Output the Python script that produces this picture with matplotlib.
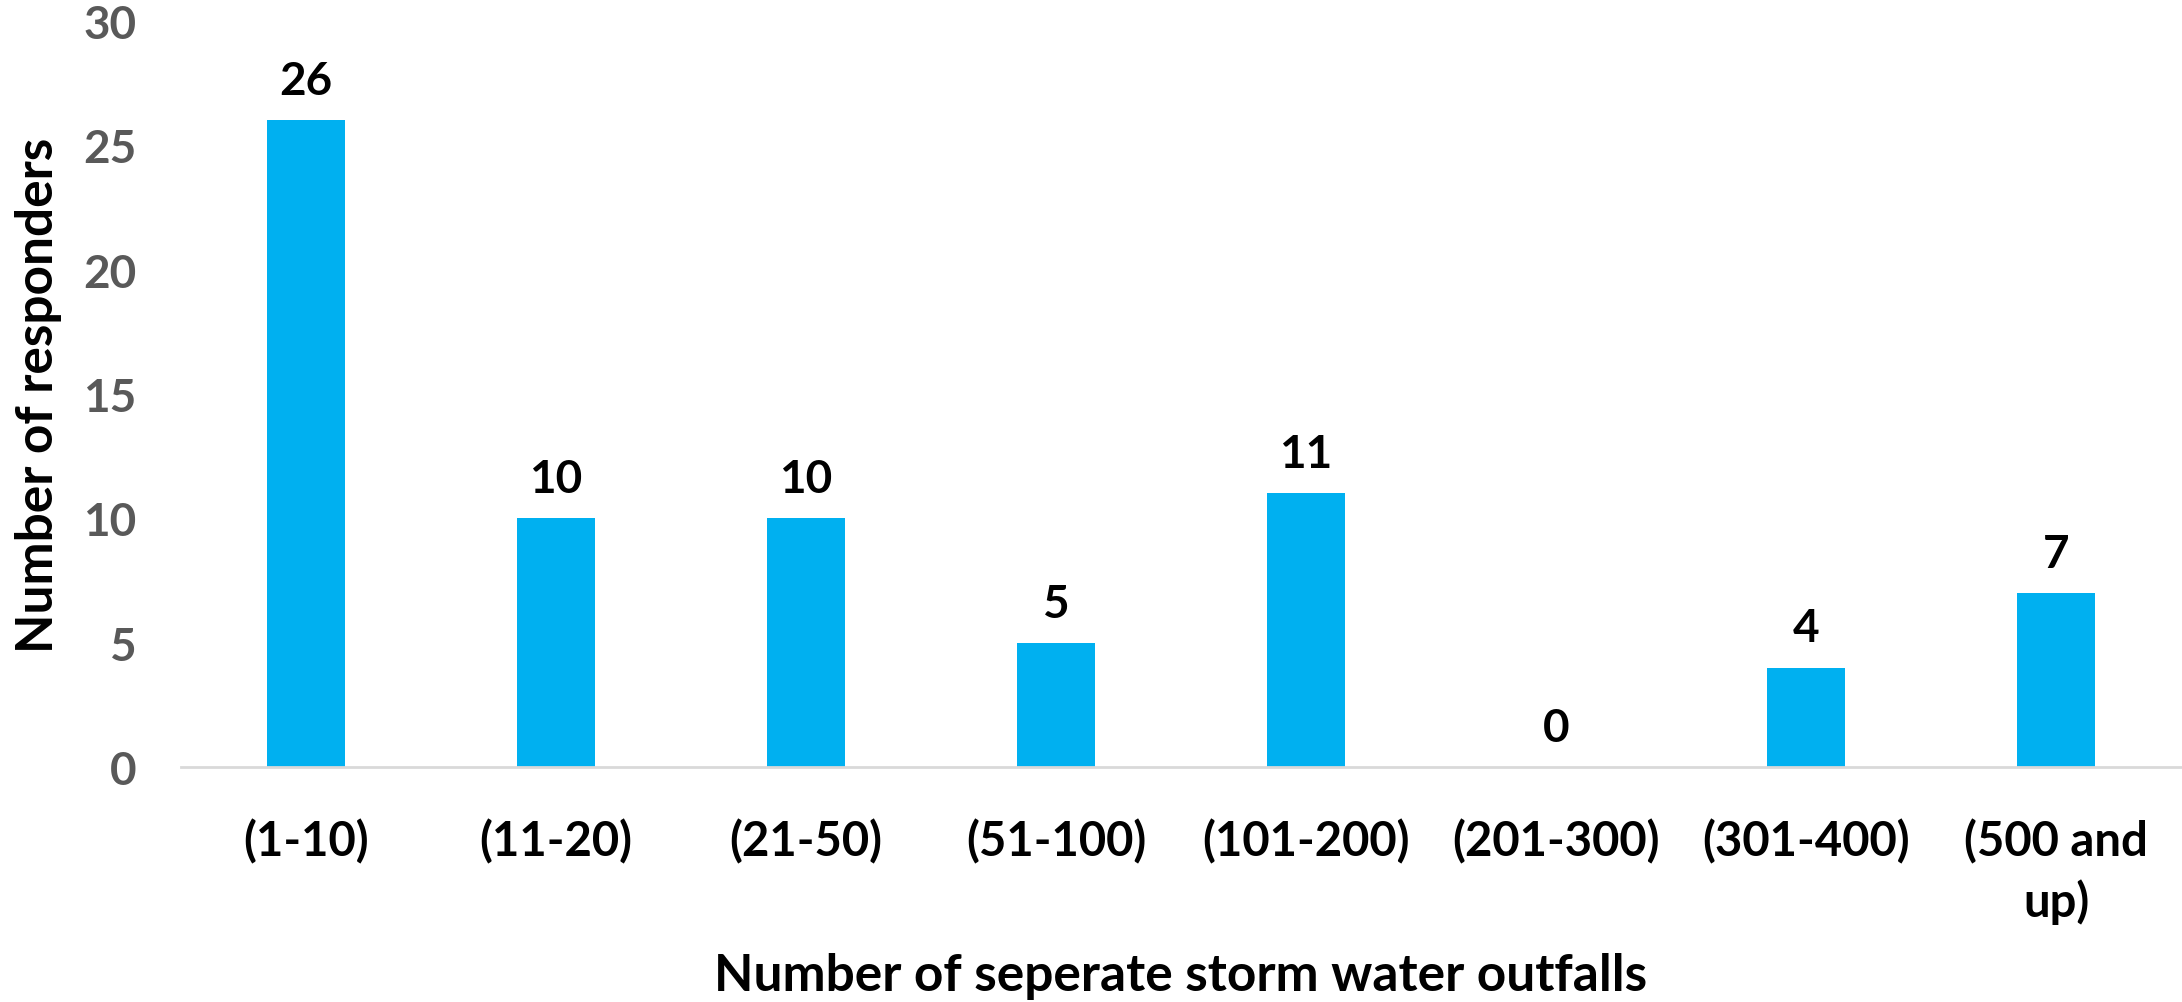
import matplotlib
matplotlib.use("Agg")
import matplotlib.pyplot as plt

categories = ["(1-10)", "(11-20)", "(21-50)", "(51-100)", "(101-200)",
              "(201-300)", "(301-400)", "(500 and\nup)"]
values = [26, 10, 10, 5, 11, 0, 4, 7]
yticks = [0, 5, 10, 15, 20, 25, 30]

plt.rcParams['font.family'] = ['Lato', 'DejaVu Sans']

fig = plt.figure(figsize=(21.82, 10.03), dpi=100)
ax = fig.add_axes([181/2182, 1 - 768/1003, 2000/2182, 746/1003])

x = range(len(categories))
bars = ax.bar(x, values, width=0.31, color="#00B0F0", zorder=2)

for xi, v in zip(x, values):
    ax.annotate(str(v), (xi, v), xytext=(0, 13), textcoords="offset points",
                ha="center", va="bottom", fontsize=33, fontweight="bold",
                color="black")

ax.set_xlim(-0.5, len(categories) - 0.5)
ax.set_ylim(0, 30)
ax.set_yticks(yticks)
ax.set_yticklabels([str(t) for t in yticks], fontsize=33, fontweight="bold",
                   color="#595959")
ax.set_xticks(list(x))
ax.set_xticklabels(categories, fontsize=34, fontweight="bold", color="black",
                   linespacing=1.4, va="top")
ax.tick_params(axis="both", length=0)
ax.tick_params(axis="x", pad=37)
ax.tick_params(axis="y", pad=32)

for s in ["top", "right", "left"]:
    ax.spines[s].set_visible(False)
ax.spines["bottom"].set_color("#D9D9D9")
ax.spines["bottom"].set_linewidth(2)

ax.set_xlabel("Number of seperate storm water outfalls", fontsize=37,
              fontweight="bold")
ax.set_ylabel("Number of responders", fontsize=37, fontweight="bold")
ax.yaxis.set_label_coords(-(181 - 39) / 2000, 0.5)
ax.xaxis.set_label_coords(0.5, -(976 - 768) / 746)
ax.xaxis.label.set_va("center")
ax.yaxis.label.set_va("center")

fig.savefig("out.png", dpi=100)
